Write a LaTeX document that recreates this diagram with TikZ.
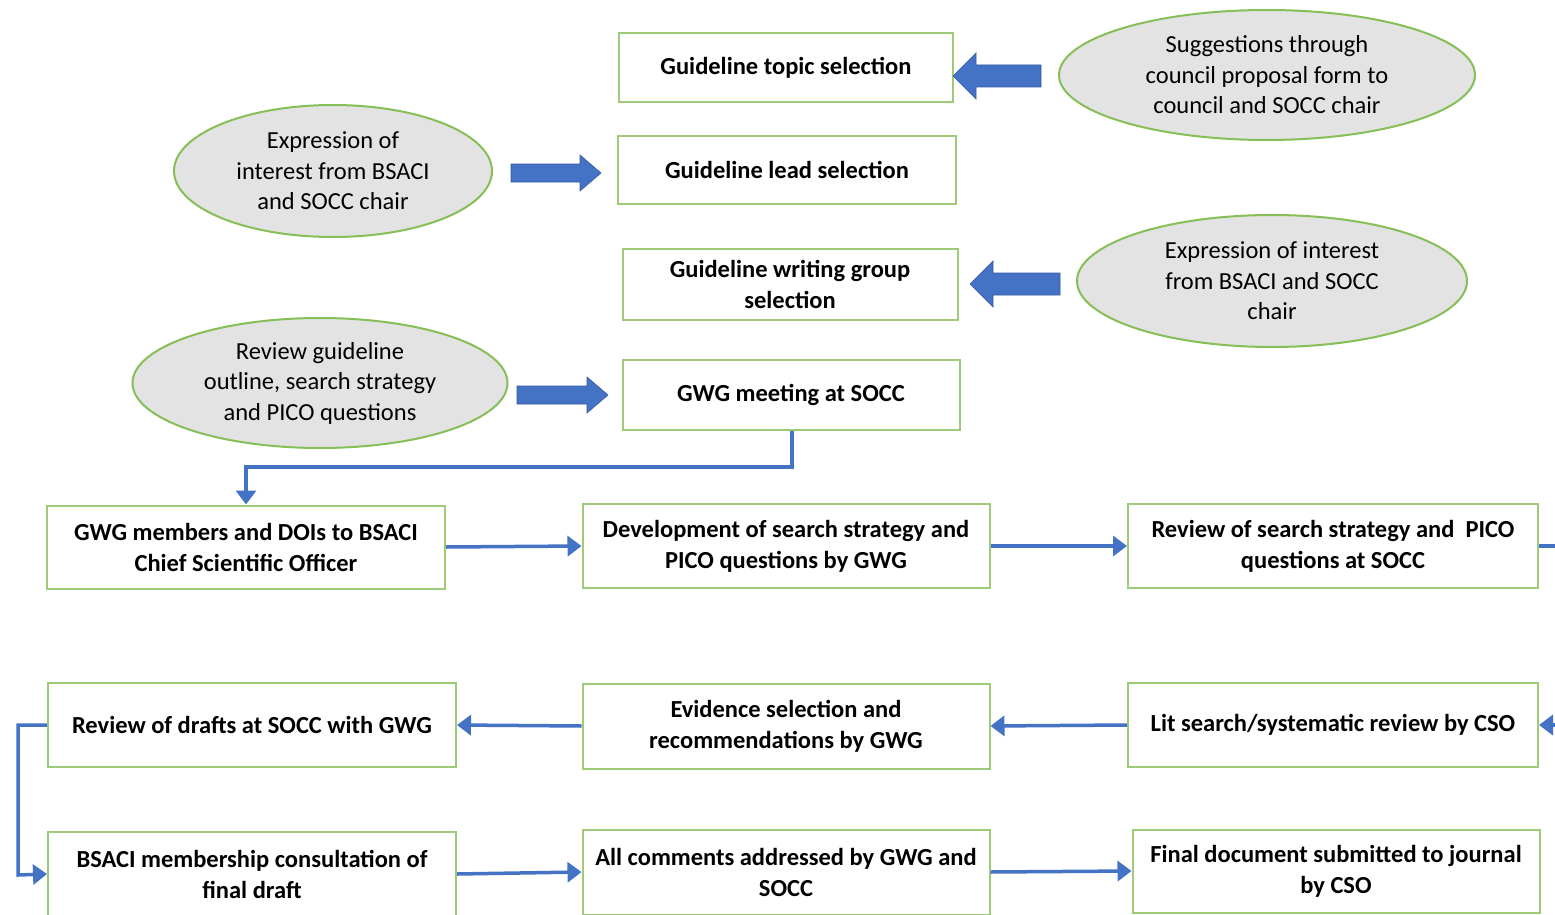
\documentclass[tikz,border=0pt]{standalone}
\usepackage{fontspec}
\setmainfont{Carlito}
\usetikzlibrary{shapes.geometric,arrows.meta}
\definecolor{boxgreen}{HTML}{9DCB77}
\definecolor{ellgreen}{HTML}{86BE57}
\definecolor{ellfill}{HTML}{E3E3E3}
\definecolor{flowblue}{HTML}{4472C4}
\begin{document}
\begin{tikzpicture}[x=1pt,y=-1pt,
  stepbox/.style={draw=boxgreen, line width=2pt, fill=white, align=center, inner sep=0pt,
    font=\fontsize{24.5}{31}\selectfont\bfseries},
  bubble/.style={ellipse, draw=ellgreen, line width=2pt, fill=ellfill, align=center, inner sep=0pt,
    font=\fontsize{24.5}{30.5}\selectfont},
  flow/.style={draw=flowblue, line width=3.5pt, -{Triangle[length=14pt,width=20pt]}},
  flowline/.style={draw=flowblue, line width=3.5pt},
  blockarr/.style={fill=flowblue, draw=flowblue!80!black, line width=0.6pt}]
\useasboundingbox (0,0) rectangle (1555,915);
\clip (0,0) rectangle (1555,915);

% top boxes
\node[stepbox, minimum width=334pt, minimum height=69pt] (topic) at (786,68) {Guideline topic selection};
\node[stepbox, minimum width=338pt, minimum height=68pt] (lead) at (787,170) {Guideline lead selection};
\node[stepbox, minimum width=335pt, minimum height=71pt] (wgroup) at (790,284) {Guideline writing group\\selection};
\node[stepbox, minimum width=337pt, minimum height=70pt] (meet) at (791,395) {GWG meeting at SOCC};

% ellipses
\node[bubble, minimum width=416pt, minimum height=130pt] (e1) at (1267,75) {Suggestions through\\council proposal form to\\council and SOCC chair};
\node[bubble, minimum width=318pt, minimum height=132pt] (e2) at (333,171) {Expression of\\interest from BSACI\\and SOCC chair};
\node[bubble, minimum width=390pt, minimum height=132pt] (e3) at (1272,281) {Expression of interest\\from BSACI and SOCC\\chair};
\node[bubble, minimum width=375pt, minimum height=130pt] (e4) at (320,383) {Review guideline\\outline, search strategy\\and PICO questions};

% row 1
\node[stepbox, minimum width=398pt, minimum height=83pt] (members) at (246,547) {GWG members and DOIs to BSACI\\Chief Scientific Officer};
\node[stepbox, minimum width=407pt, minimum height=84pt] (develop) at (786,546) {Development of search strategy and\\PICO questions by GWG};
\node[stepbox, minimum width=410pt, minimum height=84pt] (rsearch) at (1333,546) {Review of search strategy and\ \ PICO\\questions at SOCC};

% row 2
\node[stepbox, minimum width=408pt, minimum height=84pt] (drafts) at (252,725) {Review of drafts at SOCC with GWG};
\node[stepbox, minimum width=407pt, minimum height=85pt] (evid) at (786,726) {Evidence selection and\\recommendations by GWG};
\node[stepbox, minimum width=410pt, minimum height=84pt] (lit) at (1333,725) {Lit search/systematic review by CSO};

% row 3
\node[stepbox, minimum width=408pt, minimum height=84pt] (consult) at (252,874) {BSACI membership consultation of\\final draft};
\node[stepbox, minimum width=407pt, minimum height=85pt] (comments) at (786,872) {All comments addressed by GWG and\\SOCC};
\node[stepbox, minimum width=407pt, minimum height=83pt] (final) at (1336,871) {Final document submitted to journal\\by CSO};

% block arrows
\path[blockarr] (1041,65) -- (976,65) -- (976,53) -- (953,76) -- (976,99) -- (976,87) -- (1041,87) -- cycle;
\path[blockarr] (511,164) -- (580,164) -- (580,155) -- (601,173) -- (580,191) -- (580,182) -- (511,182) -- cycle;
\path[blockarr] (1060,273) -- (993,273) -- (993,261) -- (970,284) -- (993,307) -- (993,295) -- (1060,295) -- cycle;
\path[blockarr] (517,386) -- (587,386) -- (587,377) -- (608,395) -- (587,413) -- (587,404) -- (517,404) -- cycle;

% connectors
\coordinate (j1) at (792,467);
\coordinate (j2) at (246,467);
\draw[flow] (meet.south -| j1) -- (j1) -- (j2) -- (members.north);
\draw[flow] (members.east) -- (develop.west);
\draw[flow] (develop.east) -- (rsearch.west);
\coordinate (outR) at (1560,546);
\draw[flowline] (rsearch.east) -- (outR);
\coordinate (inR) at (1560,725);
\draw[flow] (inR) -- (lit.east);
\draw[flow] (lit.west) -- (evid.east);
\draw[flow] (evid.west) -- (drafts.east);
\coordinate (l1) at (18,725);
\coordinate (l2) at (18,875);
\draw[flow] (drafts.west) -- (l1) -- (l2) -- (consult.west);
\draw[flow] (consult.east) -- (comments.west);
\draw[flow] (comments.east) -- (final.west);
\end{tikzpicture}
\end{document}
